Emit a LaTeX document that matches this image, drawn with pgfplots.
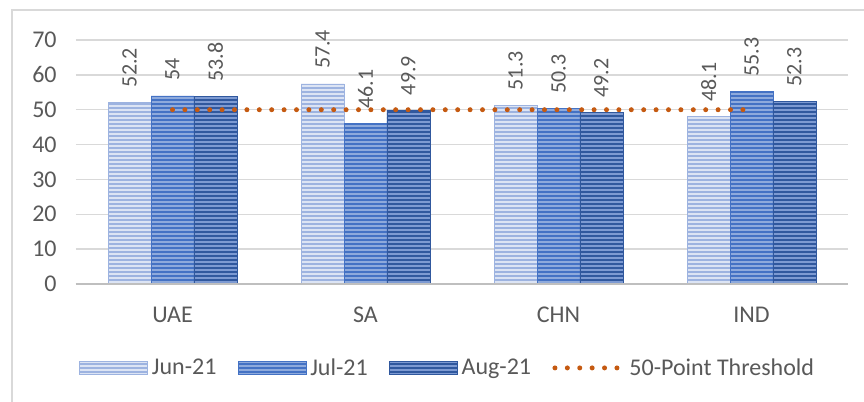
\documentclass[border=0pt]{standalone}
\usepackage{fontspec}
\setmainfont{Carlito}
\usepackage{pgfplots}
\pgfplotsset{compat=1.18}
\usetikzlibrary{patterns.meta}

\definecolor{textgray}{HTML}{595959}
\definecolor{gridgray}{HTML}{D9D9D9}
\definecolor{axisgray}{HTML}{BFBFBF}
\definecolor{junfill}{HTML}{9DB3E0}
\definecolor{junline}{HTML}{DCE4F4}
\definecolor{julfill}{HTML}{4472C4}
\definecolor{julline}{HTML}{8EAADC}
\definecolor{augfill}{HTML}{30589E}
\definecolor{augline}{HTML}{7D9AD2}
\definecolor{thresh}{HTML}{C55A11}

\pgfplotsset{
  striped/.style 2 args={
    fill=#1, draw=#1, line width=0.4pt,
    postaction={pattern={Lines[angle=0,distance=3pt,line width=1.4pt]}, pattern color=#2},
  },
  barlegend/.style={
    legend image code/.code={\fill[##1] (0pt,-5pt) rectangle (51pt,5pt);}
  },
  linelegend/.style={
    legend image code/.code={\draw[##1] (0pt,0pt) -- (51pt,0pt);}
  },
}
\tikzset{
  vlab/.style={rotate=90, anchor=west, inner xsep=11pt, inner ysep=0pt,
    font=\fontsize{16.5}{18}\selectfont, text=textgray},
}

\begin{document}
\begin{tikzpicture}
\useasboundingbox (-57pt,-88.5pt) rectangle (591pt,213pt);
% chart frame
\draw[gridgray, line width=1.5pt] (-48pt,-100pt) -- (-48pt,205.5pt) -- (600pt,205.5pt);
\begin{axis}[
  at={(0pt,0pt)}, anchor=south west,
  scale only axis, width=579pt, height=183pt,
  xmin=-0.5, xmax=3.5, ymin=0, ymax=70,
  xtick={0,1,2,3}, xticklabels={UAE,SA,CHN,IND},
  ytick={0,10,...,70},
  axis x line*=bottom, axis y line*=left,
  x axis line style={draw=axisgray, line width=2.2pt, -},
  y axis line style={draw=none},
  major tick length=0pt,
  ymajorgrids, grid style={draw=gridgray, line width=1.1pt},
  ybar=0pt, bar width=0.222,
  clip=false,
  /pgf/number format/assume math mode=true,
  tick label style={font=\fontsize{18}{20}\selectfont, color=textgray},
  yticklabel style={xshift=-11pt},
  xticklabel style={yshift=-14pt},
  legend style={
    at={(0.482,-0.344)}, anchor=center, draw=none, fill=none,
    legend columns=-1,
    font=\fontsize{18}{20}\selectfont, text=textgray,
    /tikz/every odd column/.append style={column sep=1pt},
    /tikz/every even column/.append style={column sep=14pt},
  },
]
\addplot[striped={junfill}{junline}, barlegend]
  coordinates {(0,52.2) (1,57.4) (2,51.3) (3,48.1)};
\addplot[striped={julfill}{julline}, barlegend]
  coordinates {(0,54) (1,46.1) (2,50.3) (3,55.3)};
\addplot[striped={augfill}{augline}, barlegend]
  coordinates {(0,53.8) (1,49.9) (2,49.2) (3,52.3)};
\addplot[sharp plot, thresh, line width=3.75pt, line cap=round,
  dash pattern=on 0pt off 9.3pt, linelegend]
  coordinates {(0,50) (1,50) (2,50) (3,50)};
\legend{Jun-21, Jul-21, Aug-21, 50-Point Threshold}
\draw[axisgray, line width=2.2pt] (axis cs:-0.5,0) -- (axis cs:3.5,0);
% value labels above each bar
\node[vlab] at (axis cs:-0.222,52.2) {52.2};
\node[vlab] at (axis cs:0,54)        {54};
\node[vlab] at (axis cs:0.222,53.8)  {53.8};
\node[vlab] at (axis cs:0.778,57.4)  {57.4};
\node[vlab] at (axis cs:1,46.1)      {46.1};
\node[vlab] at (axis cs:1.222,49.9)  {49.9};
\node[vlab] at (axis cs:1.778,51.3)  {51.3};
\node[vlab] at (axis cs:2,50.3)      {50.3};
\node[vlab] at (axis cs:2.222,49.2)  {49.2};
\node[vlab] at (axis cs:2.778,48.1)  {48.1};
\node[vlab] at (axis cs:3,55.3)      {55.3};
\node[vlab] at (axis cs:3.222,52.3)  {52.3};
\end{axis}
\end{tikzpicture}
\end{document}
